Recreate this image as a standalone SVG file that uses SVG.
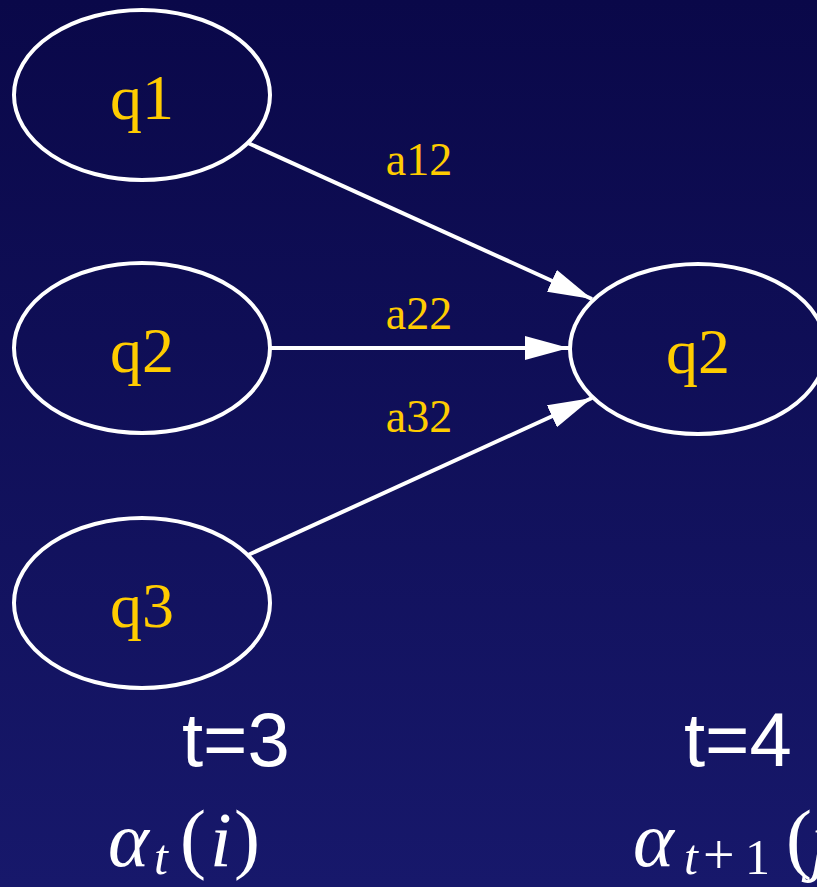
<svg xmlns="http://www.w3.org/2000/svg" width="817" height="887" viewBox="0 0 817 887">
<defs>
<linearGradient id="bg" x1="0" y1="0" x2="0" y2="1">
<stop offset="0" stop-color="#0a0849"/>
<stop offset="1" stop-color="#17186b"/>
</linearGradient>
<marker id="arr" viewBox="0 0 44 24" refX="44" refY="12" markerWidth="44" markerHeight="24" markerUnits="userSpaceOnUse" orient="auto">
<path d="M0,0 L44,12 L0,24 z" fill="#ffffff"/>
</marker>
<style>
.node ellipse{fill:none;stroke:#ffffff;stroke-width:4}
.lbl{font-family:"Liberation Serif","Times New Roman",serif;fill:#ffcc00;text-anchor:middle}
.nl{font-size:64px}
.el{font-size:46px}
.edge{stroke:#ffffff;stroke-width:4;fill:none;marker-end:url(#arr)}
.tt{font-family:"Liberation Sans",Arial,sans-serif;font-size:76px;fill:#ffffff}
.m{font-family:"Liberation Serif","Times New Roman",serif;fill:#ffffff}
</style>
</defs>
<rect x="0" y="0" width="817" height="887" fill="url(#bg)"/>
<g id="connectors">
<line class="edge" x1="248" y1="143" x2="592" y2="299"/>
<line class="edge" x1="270" y1="348" x2="569" y2="348"/>
<line class="edge" x1="248" y1="555" x2="592" y2="398"/>
<text class="lbl el" x="419" y="175">a12</text>
<text class="lbl el" x="419" y="329">a22</text>
<text class="lbl el" x="419" y="432">a32</text>
</g>
<g id="q1" class="node">
<ellipse cx="142" cy="95" rx="128" ry="85"/>
<text class="lbl nl" x="142" y="119">q1</text>
</g>
<g id="q2_left" class="node">
<ellipse cx="142" cy="348" rx="128" ry="85"/>
<text class="lbl nl" x="142" y="372">q2</text>
</g>
<g id="q3" class="node">
<ellipse cx="142" cy="603" rx="128" ry="85"/>
<text class="lbl nl" x="142" y="627">q3</text>
</g>
<g id="q2_right" class="node">
<ellipse cx="698" cy="349" rx="128" ry="85"/>
<text class="lbl nl" x="698" y="373">q2</text>
</g>
<g id="labels">
<text class="tt" x="182" y="766">t=3</text>
<text class="tt" x="684" y="766">t=4</text>
<text class="m" font-style="italic" font-size="78" x="108" y="866">α</text>
<text class="m" font-style="italic" font-size="50" x="154" y="874">t</text>
<text class="m" font-size="78" x="180" y="864">(</text>
<text class="m" font-style="italic" font-size="78" x="210" y="866">i</text>
<text class="m" font-size="78" x="234" y="864">)</text>
<text class="m" font-style="italic" font-size="78" x="633" y="866">α</text>
<text class="m" font-style="italic" font-size="50" x="684" y="874">t</text>
<text class="m" font-size="56" x="703" y="874">+</text>
<text class="m" font-size="50" x="745" y="874">1</text>
<text class="m" font-size="78" x="786" y="864">(</text>
<text class="m" font-style="italic" font-size="78" x="810" y="866">j</text>
</g>
</svg>
